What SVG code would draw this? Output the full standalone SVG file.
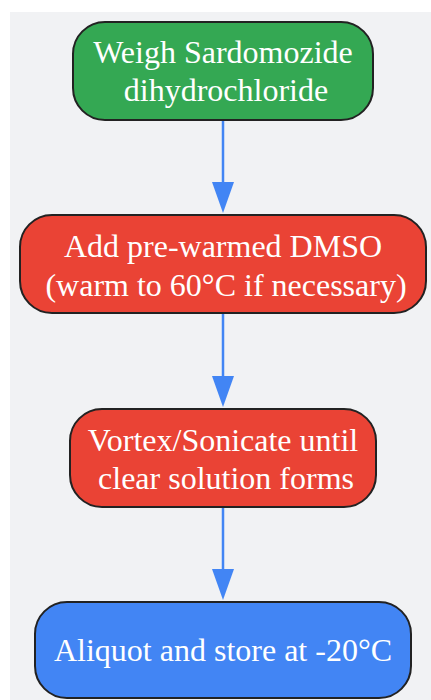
<svg xmlns="http://www.w3.org/2000/svg" width="431" height="700" viewBox="0 0 431 700">
<style>
.node rect{stroke:#222;stroke-width:2}
.node text{font-family:"Liberation Serif","Times New Roman",serif;font-size:32px;fill:#fff;text-anchor:middle}
.edge{stroke:#4285f4;stroke-width:2.5;fill:none}
.head{fill:#4285f4}
</style>
<rect x="10" y="12" width="421" height="688" fill="#f1f2f4"/>
<g id="connectors">
<line class="edge" x1="223" y1="121" x2="223" y2="185"/>
<polygon class="head" points="212,182 234,182 223,213"/>
<line class="edge" x1="223" y1="314" x2="223" y2="378"/>
<polygon class="head" points="212,376 234,376 223,407"/>
<line class="edge" x1="223" y1="508" x2="223" y2="572"/>
<polygon class="head" points="212,569 234,569 223,600"/>
</g>
<g id="node1" class="node">
<rect x="73" y="22" width="300" height="98" rx="32" fill="#34a853"/>
<text x="223" y="63">Weigh Sardomozide</text>
<text x="226" y="101">dihydrochloride</text>
</g>
<g id="node2" class="node">
<rect x="20" y="215" width="406" height="98" rx="32" fill="#ea4335"/>
<text x="223" y="257">Add pre-warmed DMSO</text>
<text x="226" y="296">(warm to 60°C if necessary)</text>
</g>
<g id="node3" class="node">
<rect x="70" y="409" width="306" height="98" rx="32" fill="#ea4335"/>
<text x="223" y="451">Vortex/Sonicate until</text>
<text x="226" y="489">clear solution forms</text>
</g>
<g id="node4" class="node">
<rect x="35" y="602" width="376" height="96" rx="32" fill="#4285f4"/>
<text x="223" y="661">Aliquot and store at -20°C</text>
</g>
</svg>
